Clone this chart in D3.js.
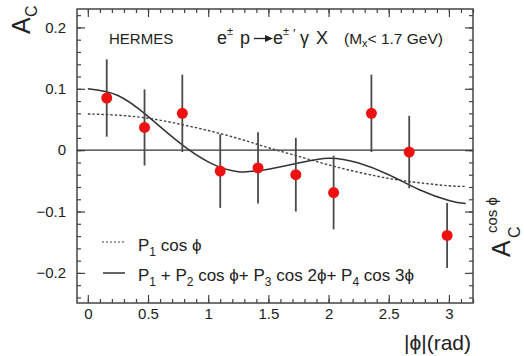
<!DOCTYPE html>
<html>
<head>
<meta charset="utf-8">
<script src="https://cdn.jsdelivr.net/npm/d3@7"></script>
<style>
  html, body { margin: 0; padding: 0; background: #fff; }
  svg { display: block; }
  text { font-family: "Liberation Sans", Arial, sans-serif; fill: #222; }
</style>
</head>
<body>
<div id="chart"></div>
<script>
// measured asymmetry per |phi| bin
var phiBins = [0.157, 0.471, 0.785, 1.100, 1.414, 1.728, 2.042, 2.356, 2.670, 2.985];
var acValues = [0.085, 0.037, 0.060, -0.034, -0.029, -0.040, -0.069, 0.060, -0.003, -0.139];
var acErrors = [0.063, 0.062, 0.063, 0.060, 0.058, 0.060, 0.060, 0.063, 0.059, 0.053];

// fit curves
var curvePhi = [0, 0.25, 0.5, 0.75, 1.0, 1.25, 1.5, 1.75, 2.0, 2.25, 2.5, 2.75, 3.0, 3.14];
var fitCos = [0.059, 0.057, 0.052, 0.043, 0.032, 0.019, 0.004, -0.010, -0.024, -0.036, -0.046, -0.053, -0.058, -0.059];
var fitFull = [0.100, 0.089, 0.055, 0.014, -0.019, -0.035, -0.031, -0.021, -0.013, -0.021, -0.040, -0.064, -0.082, -0.087];

var xMajor = [0, 0.5, 1, 1.5, 2, 2.5, 3];
var yMajor = [-0.2, -0.1, 0, 0.1, 0.2];
var xMinor = d3.range(0, 33).map(function(i) { return i / 10; });
var yMinor = d3.range(-12, 12).map(function(i) { return i / 50; });

var W = 524, H = 356;
var plotL = 77, plotR = 473, plotT = 9, plotB = 303;

var svg = d3.select("#chart").append("svg").attr("width", W).attr("height", H);

var x = d3.scaleLinear().domain([-0.09, 3.2]).range([plotL, plotR]);
var y = d3.scaleLinear().domain([-0.249, 0.230]).range([plotB, plotT]);

function fmt(d) { return d === 0 ? "0" : d3.format("")(d); }

// axes (ticks pointing inward, mirrored on top/right)
function addAxis(axis, tx, ty, labels) {
    var g = svg.append("g").attr("transform", "translate(" + tx + "," + ty + ")").call(axis);
    g.select(".domain").remove();
    g.selectAll("line").attr("stroke", "#444").attr("stroke-width", 1.2);
    if (!labels) g.selectAll("text").remove();
    else g.selectAll("text").attr("font-size", 15).attr("fill", "#222")
        .attr("font-family", "Liberation Sans, Arial, sans-serif");
    return g;
}
addAxis(d3.axisBottom(x).tickValues(xMajor).tickSize(-8).tickPadding(5).tickFormat(fmt), 0, plotB, true);
addAxis(d3.axisBottom(x).tickValues(xMinor).tickSize(-4), 0, plotB, false);
addAxis(d3.axisTop(x).tickValues(xMajor).tickSize(-8), 0, plotT, false);
addAxis(d3.axisTop(x).tickValues(xMinor).tickSize(-4), 0, plotT, false);
addAxis(d3.axisLeft(y).tickValues(yMajor).tickSize(-8).tickPadding(11).tickFormat(fmt), plotL, 0, true);
addAxis(d3.axisLeft(y).tickValues(yMinor).tickSize(-4), plotL, 0, false);
addAxis(d3.axisRight(y).tickValues(yMajor).tickSize(-8), plotR, 0, false);
addAxis(d3.axisRight(y).tickValues(yMinor).tickSize(-4), plotR, 0, false);

svg.append("rect").attr("x", plotL).attr("y", plotT)
    .attr("width", plotR - plotL).attr("height", plotB - plotT)
    .attr("fill", "none").attr("stroke", "#444").attr("stroke-width", 1.5);

// zero line
svg.append("line").attr("x1", plotL).attr("x2", plotR)
    .attr("y1", y(0)).attr("y2", y(0))
    .attr("stroke", "#333").attr("stroke-width", 1.2);

// curves
var line = d3.line().curve(d3.curveNatural);
svg.append("path")
    .attr("d", line(curvePhi.map(function(p, i) { return [x(p), y(fitCos[i])]; })))
    .attr("fill", "none").attr("stroke", "#444").attr("stroke-width", 1.4)
    .attr("stroke-dasharray", "2.5,2");
svg.append("path")
    .attr("d", line(curvePhi.map(function(p, i) { return [x(p), y(fitFull[i])]; })))
    .attr("fill", "none").attr("stroke", "#333").attr("stroke-width", 1.5);

// error bars and points
svg.selectAll(".err").data(phiBins).enter().append("line")
    .attr("x1", function(d) { return x(d); }).attr("x2", function(d) { return x(d); })
    .attr("y1", function(d, i) { return y(acValues[i] + acErrors[i]); })
    .attr("y2", function(d, i) { return y(acValues[i] - acErrors[i]); })
    .attr("stroke", "#4a4a4a").attr("stroke-width", 1.8);
svg.selectAll(".pt").data(phiBins).enter().append("circle")
    .attr("cx", function(d) { return x(d); })
    .attr("cy", function(d, i) { return y(acValues[i]); })
    .attr("r", 5.5).attr("fill", "#ee1111");

// annotations
svg.append("text").attr("x", 109).attr("y", 44).attr("font-size", 15).text("HERMES");

function txt(xp, yp, size, s) {
    return svg.append("text").attr("x", xp).attr("y", yp).attr("font-size", size).text(s);
}
txt(217, 44, 18, "e");
txt(227, 35, 11, "±");
txt(240, 44, 18, "p");
svg.append("line").attr("x1", 254).attr("x2", 266).attr("y1", 38.5).attr("y2", 38.5)
    .attr("stroke", "#222").attr("stroke-width", 1.3);
svg.append("path").attr("d", "M265,35 L273,38.5 L265,42 Z").attr("fill", "#222");
txt(273, 44, 18, "e");
txt(283, 35, 11, "±");
txt(293, 38, 13, "′");
txt(300, 44, 18, "γ");
txt(316, 44, 18, "X");
var mx = txt(344, 44, 15.5, "(M");
mx.append("tspan").attr("font-size", 11).attr("dy", 3).text("x");
mx.append("tspan").attr("dy", -3).text("< 1.7 GeV)");

// legend
svg.append("line").attr("x1", 102).attr("x2", 125).attr("y1", 242).attr("y2", 242)
    .attr("stroke", "#444").attr("stroke-width", 1.2).attr("stroke-dasharray", "2,2");
svg.append("line").attr("x1", 103).attr("x2", 125).attr("y1", 273).attr("y2", 273)
    .attr("stroke", "#333").attr("stroke-width", 1.5);

function pSub(t, n, rest) {
    t.append("tspan").text("P");
    t.append("tspan").attr("font-size", 12).attr("dy", 5).text(n);
    t.append("tspan").attr("dy", -5).text(rest);
}
var l1 = txt(138, 251, 17, "");
pSub(l1, "1", " cos ϕ");
var l2 = txt(138, 281, 17, "");
pSub(l2, "1", " + ");
pSub(l2, "2", " cos ϕ+ ");
pSub(l2, "3", " cos 2ϕ+ ");
pSub(l2, "4", " cos 3ϕ");

// axis titles
var yl = svg.append("text").attr("transform", "translate(30,34) rotate(-90)").attr("font-size", 25);
yl.append("tspan").attr("x", 0).attr("y", 0).text("A");
yl.append("tspan").attr("x", 17).attr("y", 7).attr("font-size", 16).text("C");

var rl = svg.append("text").attr("transform", "translate(510,257) rotate(-90)").attr("font-size", 25);
rl.append("tspan").attr("x", 0).attr("y", 0).text("A");
rl.append("tspan").attr("x", 19).attr("y", 10).attr("font-size", 16).text("C");
rl.append("tspan").attr("x", 24).attr("y", -13).attr("font-size", 15).text("cos ϕ");

svg.append("text").attr("x", 471).attr("y", 350).attr("text-anchor", "end")
    .attr("font-size", 21).text("|ϕ|(rad)");
</script>
</body>
</html>
